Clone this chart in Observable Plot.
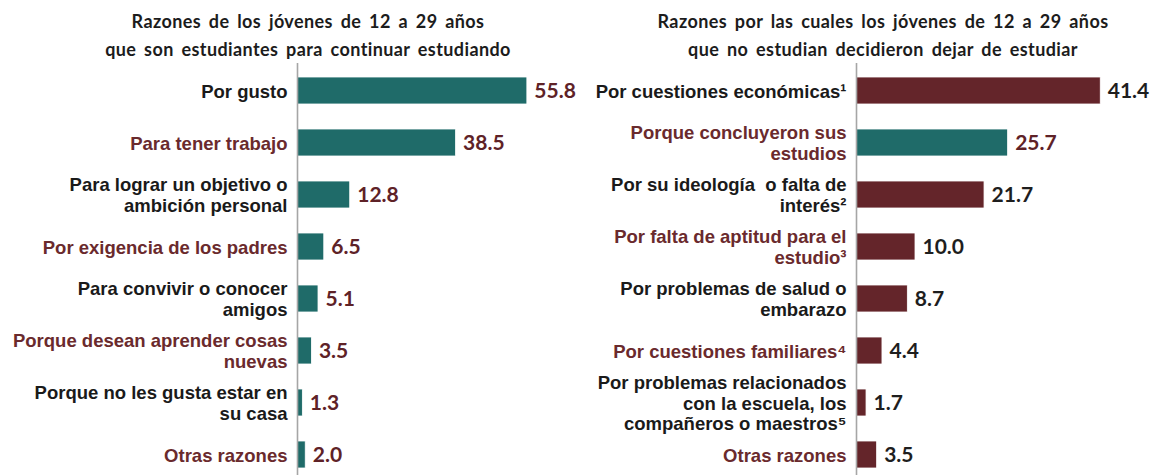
<!DOCTYPE html>
<html><head><meta charset="utf-8">
<script src="https://cdn.jsdelivr.net/npm/d3@7"></script>
<script src="https://cdn.jsdelivr.net/npm/@observablehq/plot@0.6"></script>
<style>
body{margin:0;background:#fff;}
#wrap{position:relative;width:1151px;height:475px;overflow:hidden;background:#fff;}
.panel{position:absolute;top:0;height:475px;}
.title{position:absolute;top:7px;width:560px;text-align:center;font-family:Lato,"Liberation Sans",sans-serif;font-weight:700;font-size:18px;letter-spacing:0.4px;word-spacing:3px;line-height:28px;color:#1c1c1c;white-space:nowrap;}
.chart{position:absolute;top:63px;left:0;}
</style>
</head><body>
<div id="wrap">
  <div class="panel" id="left" style="left:0;width:580px;">
    <div class="title" style="left:28px;">Razones de los jóvenes de 12 a 29 años<br>que son estudiantes para continuar estudiando</div>
    <div class="chart" id="chartL"></div>
  </div>
  <div class="panel" id="right" style="left:580px;width:571px;">
    <div class="title" style="left:23px;">Razones por las cuales los jóvenes de 12 a 29 años<br>que no estudian decidieron dejar de estudiar</div>
    <div class="chart" id="chartR"></div>
  </div>
</div>
<script>
// Left panel data
const leftCategories = [
  "Por gusto",
  "Para tener trabajo",
  "Para lograr un objetivo o\nambición personal",
  "Por exigencia de los padres",
  "Para convivir o conocer\namigos",
  "Porque desean aprender cosas\nnuevas",
  "Porque no les gusta estar en\nsu casa",
  "Otras razones"
];
const leftValues = [55.8, 38.5, 12.8, 6.5, 5.1, 3.5, 1.3, 2.0];

// Right panel data
const rightCategories = [
  "Por cuestiones económicas¹",
  "Porque concluyeron sus\nestudios",
  "Por su ideología  o falta de\ninterés²",
  "Por falta de aptitud para el\nestudio³",
  "Por problemas de salud o\nembarazo",
  "Por cuestiones familiares⁴",
  "Por problemas relacionados\ncon la escuela, los\ncompañeros o maestros⁵",
  "Otras razones"
];
const rightValues = [41.4, 25.7, 21.7, 10.0, 8.7, 4.4, 1.7, 3.5];
const rightHighlight = "Porque concluyeron sus\nestudios";

const TEAL = "#1f6b69", MAROON = "#64252a", LABEL_DARK = "#1a1a1a", LABEL_RED = "#6a2a2d", VALUE_RED = "#5e2227", VALUE_DARK = "#1e1e1e";

function panel({categories, values, width, marginLeft, xMax, barFill, valueFill}) {
  const data = categories.map((c, i) => ({category: c, value: values[i], i}));
  return Plot.plot({
    width, height: 412,
    marginLeft, marginRight: 0, marginTop: 0, marginBottom: 0,
    x: {domain: [0, xMax], axis: null},
    y: {domain: categories, axis: null, paddingInner: 0.48, paddingOuter: 0, insetTop: 14, insetBottom: 6},
    style: {background: "transparent"},
    marks: [
      Plot.barX(data, {x: "value", y: "category", fill: barFill, stroke: "#ffffff", strokeWidth: 0.8}),
      Plot.ruleX([0], {stroke: "#a6a6a6", strokeWidth: 1.6}),
      Plot.text(data, {
        x: 0, y: "category", text: "category", dx: -10,
        textAnchor: "end", lineAnchor: "middle", lineHeight: 1.1,
        fill: d => d.i % 2 ? LABEL_RED : LABEL_DARK,
        fontFamily: "Liberation Sans, Arial, sans-serif", fontWeight: 700, fontSize: 18.5
      }),
      Plot.text(data, {
        x: "value", y: "category", text: d => d.value.toFixed(1), dx: 7,
        textAnchor: "start", lineAnchor: "middle",
        fill: valueFill,
        fontFamily: "Lato, sans-serif", fontWeight: 700, fontSize: 21
      })
    ]
  });
}

document.getElementById("chartL").append(panel({
  categories: leftCategories, values: leftValues, width: 580, marginLeft: 297, xMax: 68.7,
  barFill: TEAL, valueFill: VALUE_RED
}));
document.getElementById("chartR").append(panel({
  categories: rightCategories, values: rightValues, width: 571, marginLeft: 276, xMax: 50,
  barFill: d => d.category === rightHighlight ? TEAL : MAROON,
  valueFill: d => d.category === rightHighlight ? VALUE_RED : VALUE_DARK
}));
</script>
</body></html>
